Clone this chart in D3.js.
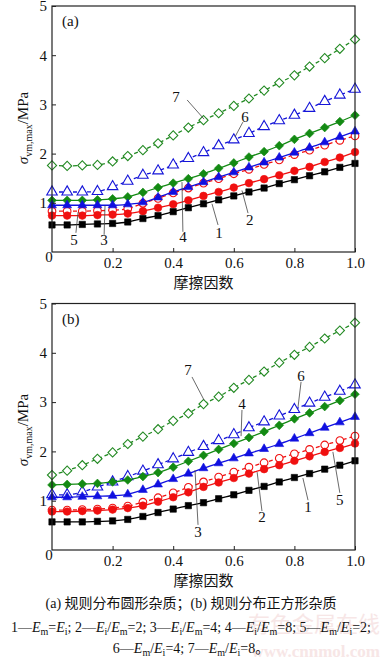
<!DOCTYPE html>
<html lang="zh">
<head>
<meta charset="UTF-8">
<title>σvm,max 与摩擦因数</title>
<script src="https://d3js.org/d3.v7.min.js"></script>
<style>
  body { margin: 0; background: #fff; }
  svg, text { font-family: "Liberation Serif", "Times New Roman", "Noto Sans CJK SC", serif; }
  text { fill: #111; }
  .cjk { font-family: "Noto Sans CJK SC", sans-serif; }
  .frame { fill: none; stroke: #222; stroke-width: 1.2px; }
  .lead { stroke: #444; stroke-width: 0.8px; fill: none; }
</style>
</head>
<body>
<script>
// friction coefficient (x)
const friction = [0, 0.05, 0.1, 0.15, 0.2, 0.25, 0.3, 0.35, 0.4, 0.45, 0.5,
                  0.55, 0.6, 0.65, 0.7, 0.75, 0.8, 0.85, 0.9, 0.95, 1.0];

// (a) circular inclusions
const a1 = [0.55,0.55,0.56,0.57,0.58,0.61,0.68,0.74,0.82,0.90,0.98,1.06,1.14,1.22,1.30,1.39,1.47,1.55,1.63,1.72,1.80];
const a2 = [0.74,0.74,0.74,0.75,0.76,0.78,0.83,0.90,0.97,1.05,1.14,1.22,1.31,1.40,1.48,1.56,1.65,1.73,1.83,1.92,2.03];
const a3 = [0.95,0.95,0.95,0.95,0.95,0.97,1.01,1.11,1.22,1.32,1.42,1.52,1.62,1.72,1.82,1.92,2.02,2.12,2.23,2.34,2.45];
const a4 = [1.05,1.05,1.05,1.06,1.08,1.12,1.21,1.31,1.40,1.49,1.59,1.70,1.81,1.93,2.04,2.16,2.29,2.41,2.53,2.65,2.78];
const a5 = [0.83,0.83,0.83,0.84,0.85,0.88,0.99,1.09,1.20,1.30,1.40,1.49,1.59,1.68,1.78,1.87,1.98,2.07,2.17,2.27,2.36];
const a6 = [1.22,1.22,1.22,1.23,1.33,1.44,1.56,1.65,1.77,1.90,2.02,2.16,2.28,2.41,2.55,2.67,2.78,2.92,3.06,3.19,3.31];
const a7 = [1.76,1.75,1.76,1.77,1.84,1.95,2.07,2.21,2.37,2.53,2.68,2.82,2.97,3.12,3.28,3.44,3.59,3.77,3.94,4.13,4.32];

// (b) square inclusions
const b1 = [0.57,0.57,0.57,0.58,0.59,0.62,0.68,0.76,0.83,0.90,0.96,1.04,1.12,1.21,1.29,1.38,1.47,1.55,1.64,1.72,1.81];
const b2 = [0.78,0.78,0.79,0.80,0.82,0.85,0.90,0.98,1.07,1.17,1.28,1.37,1.46,1.55,1.64,1.72,1.81,1.90,1.99,2.07,2.16];
const b3 = [1.07,1.07,1.08,1.09,1.10,1.13,1.22,1.33,1.44,1.55,1.66,1.76,1.86,1.96,2.05,2.15,2.26,2.37,2.48,2.59,2.70];
const b4 = [1.32,1.33,1.34,1.35,1.38,1.42,1.49,1.57,1.68,1.80,1.92,2.04,2.16,2.28,2.40,2.53,2.66,2.78,2.91,3.03,3.16];
const b5 = [0.81,0.81,0.82,0.83,0.85,0.89,0.97,1.06,1.16,1.27,1.38,1.48,1.58,1.68,1.77,1.86,1.95,2.04,2.13,2.22,2.31];
const b6 = [1.12,1.12,1.18,1.28,1.38,1.49,1.60,1.73,1.85,1.98,2.10,2.22,2.34,2.48,2.60,2.72,2.85,2.98,3.10,3.22,3.35];
const b7 = [1.52,1.61,1.72,1.85,1.98,2.15,2.30,2.45,2.62,2.77,2.96,3.11,3.29,3.45,3.62,3.80,3.96,4.12,4.29,4.45,4.61];

const yTicks = [1, 2, 3, 4, 5];
const xTicks = [0.2, 0.4, 0.6, 0.8, 1.0];
const xTitle = "摩擦因数";

// curve labels: text position and leader line in data units
const notesA = [
  {t:"7", tx:0.409, ty:3.15, x1:0.446, y1:3.09, x2:0.502, y2:2.70},
  {t:"6", tx:0.637, ty:2.74, x1:0.630, y1:2.64, x2:0.604, y2:2.34},
  {t:"5", tx:0.073, ty:0.24, x1:0.079, y1:0.39, x2:0.086, y2:0.81},
  {t:"3", tx:0.172, ty:0.24, x1:0.172, y1:0.35, x2:0.175, y2:0.94},
  {t:"4", tx:0.432, ty:0.30, x1:0.432, y1:0.41, x2:0.429, y2:1.42},
  {t:"1", tx:0.551, ty:0.39, x1:0.548, y1:0.55, x2:0.528, y2:0.98},
  {t:"2", tx:0.653, ty:0.65, x1:0.647, y1:0.79, x2:0.627, y2:1.25}
];
const notesB = [
  {t:"7", tx:0.449, ty:3.65, x1:0.462, y1:3.51, x2:0.502, y2:3.04},
  {t:"6", tx:0.822, ty:3.53, x1:0.822, y1:3.41, x2:0.812, y2:2.90},
  {t:"4", tx:0.627, ty:2.96, x1:0.627, y1:2.84, x2:0.624, y2:2.31},
  {t:"3", tx:0.482, ty:0.37, x1:0.482, y1:0.51, x2:0.472, y2:1.62},
  {t:"2", tx:0.693, ty:0.67, x1:0.693, y1:0.79, x2:0.677, y2:1.58},
  {t:"1", tx:0.845, ty:0.87, x1:0.845, y1:1.01, x2:0.828, y2:1.46},
  {t:"5", tx:0.950, ty:1.01, x1:0.950, y1:1.16, x2:0.927, y2:1.99}
];

const W = 383, H = 661;
const svg = d3.select("body").append("svg").attr("width", W).attr("height", H);

// faint watermark
svg.append("text").attr("class", "cjk").attr("x", 380).attr("y", 632)
  .attr("text-anchor", "end").style("font-size", "22px").style("fill", "#f7e6e6")
  .text("有色金属在线");
svg.append("text").attr("x", 380).attr("y", 657)
  .attr("text-anchor", "end").style("font-size", "17px").style("fill", "#f7e6e6")
  .style("font-weight", "bold").text("www.cnnmol.com");

const x = d3.scaleLinear().domain([0, 1]).range([52, 355]);

// style per curve number
const styles = {
  1: {color:"#000",    shape:"square",  fill:true,  dash:null,  size:40},
  2: {color:"#f01010", shape:"circle",  fill:true,  dash:null,  size:46},
  3: {color:"#1010e0", shape:"tri",     fill:true,  dash:null,  size:34},
  4: {color:"#138a13", shape:"diamond", fill:true,  dash:null,  size:38},
  5: {color:"#f01010", shape:"circle",  fill:false, dash:"4,3", size:46},
  6: {color:"#1515d8", shape:"tri",     fill:false, dash:"4,3", size:48},
  7: {color:"#238a23", shape:"diamond", fill:false, dash:"4,3", size:42}
};

function symbolPath(s) {
  const type = {square:d3.symbolSquare, circle:d3.symbolCircle,
                tri:d3.symbolTriangle, diamond:d3.symbolSquare}[s.shape];
  return d3.symbol().type(type).size(s.size)();
}

function panel(top, bottom, tag, series, notes, ylabelY) {
  const y = d3.scaleLinear().domain([0, 5]).range([bottom, top]);
  const g = svg.append("g");

  // order of drawing: back to front
  const order = [7, 6, 5, 4, 3, 2, 1];
  const line = d3.line().x((d, i) => x(friction[i])).y(d => y(d)).curve(d3.curveMonotoneX);

  order.forEach(k => {
    const s = styles[k];
    const vals = series[k - 1];
    g.append("path").datum(vals).attr("d", line)
      .attr("fill", "none").attr("stroke", s.color).attr("stroke-width", 1.3)
      .attr("stroke-dasharray", s.dash);
    const p = symbolPath(s);
    g.append("g").selectAll("path").data(vals).join("path")
      .attr("d", p)
      .attr("transform", (d, i) => `translate(${x(friction[i])},${y(d)})` + (s.shape === "diamond" ? " rotate(45)" : ""))
      .attr("fill", s.fill ? s.color : "#fff")
      .attr("stroke", s.color).attr("stroke-width", s.fill ? 0.6 : 1.1);
  });

  // frame
  g.append("rect").attr("class", "frame")
    .attr("x", x(0)).attr("y", y(5)).attr("width", x(1) - x(0)).attr("height", y(0) - y(5));

  // y axis, ticks inward
  const ya = d3.axisLeft(y).tickValues(yTicks).tickSize(-4).tickPadding(5).tickFormat(d3.format("d"));
  const yg = g.append("g").attr("transform", `translate(${x(0)},0)`).call(ya);
  // x axis, ticks inward
  const xa = d3.axisBottom(x).tickValues(xTicks).tickSize(-4).tickPadding(5)
    .tickFormat(d3.format(".1f"));
  const xg = g.append("g").attr("transform", `translate(0,${y(0)})`).call(xa);
  [yg, xg].forEach(a => {
    a.attr("font-family", null).attr("font-size", null);
    a.select(".domain").remove();
    a.selectAll("line").attr("stroke", "#222");
    a.selectAll("text").style("font-size", "15px").attr("fill", "#111");
  });
  g.append("text").attr("x", x(0) - 3).attr("y", y(0) + 10).attr("text-anchor", "middle")
    .style("font-size", "15px").text("0");

  g.append("text").attr("class", "cjk").attr("x", x(0.5)).attr("y", y(0) + 36)
    .attr("text-anchor", "middle").style("font-size", "15px").text(xTitle);

  // y label
  const yl = g.append("text").attr("transform", `translate(28,${ylabelY}) rotate(-90)`)
    .attr("text-anchor", "middle").style("font-size", "15px");
  yl.append("tspan").style("font-style", "italic").text("σ");
  yl.append("tspan").attr("dy", 4).style("font-size", "10px").text("vm,max");
  yl.append("tspan").attr("dy", -4).text("/MPa");

  g.append("text").attr("x", x(0) + 10).attr("y", y(5) + 20).style("font-size", "15px").text(tag);

  // curve labels
  g.selectAll(".lead").data(notes).join("line").attr("class", "lead")
    .attr("x1", d => x(d.x1)).attr("y1", d => y(d.y1))
    .attr("x2", d => x(d.x2)).attr("y2", d => y(d.y2));
  g.selectAll(".num").data(notes).join("text").attr("class", "num")
    .attr("x", d => x(d.tx)).attr("y", d => y(d.ty)).attr("dy", "0.35em")
    .attr("text-anchor", "middle").style("font-size", "15px").text(d => d.t);
}

panel(6, 252, "(a)", [a1, a2, a3, a4, a5, a6, a7], notesA, 128);
panel(303.5, 550, "(b)", [b1, b2, b3, b4, b5, b6, b7], notesB, 430);

// caption
const cap = svg.append("g").style("font-size", "14px");
cap.append("text").attr("x", 191).attr("y", 608).attr("text-anchor", "middle")
  .text("(a) 规则分布圆形杂质；(b) 规则分布正方形杂质");

// writes plain runs and italic E with a subscript; dy shifts carried to the next run
function eq(t, parts) {
  let back = 0;
  parts.forEach(p => {
    if (p.E) {
      t.append("tspan").attr("dy", back || null).style("font-style", "italic").text("E");
      t.append("tspan").attr("dy", 3).style("font-size", "10px").text(p.E);
      back = -3;
    } else {
      t.append("tspan").attr("dy", back || null).text(p);
      back = 0;
    }
  });
}
const l2 = cap.append("text").attr("x", 191).attr("y", 632).attr("text-anchor", "middle");
eq(l2, ["1—", {E:"m"}, "=", {E:"i"}, "; 2—", {E:"i"}, "/", {E:"m"}, "=2; 3—", {E:"i"}, "/", {E:"m"},
        "=4; 4—", {E:"i"}, "/", {E:"m"}, "=8; 5—", {E:"m"}, "/", {E:"i"}, "=2;"]);
const l3 = cap.append("text").attr("x", 191).attr("y", 653).attr("text-anchor", "middle");
eq(l3, ["6—", {E:"m"}, "/", {E:"i"}, "=4; 7—", {E:"m"}, "/", {E:"i"}, "=8。"]);
</script>
</body>
</html>
